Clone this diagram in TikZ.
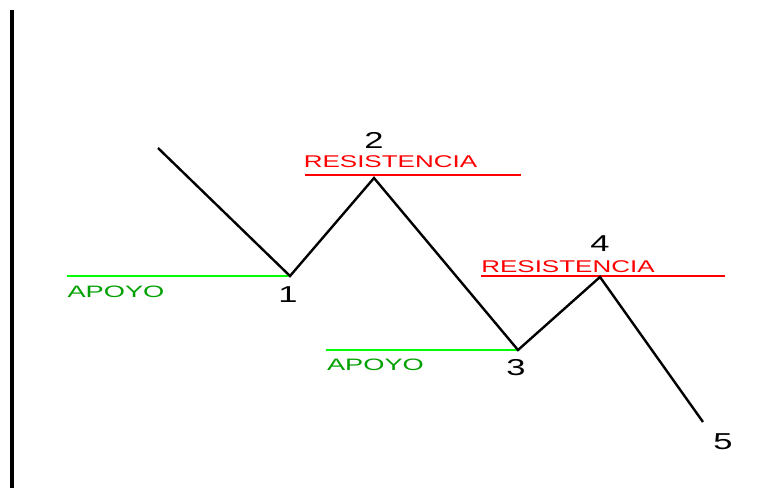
\documentclass[tikz,border=0pt]{standalone}
\usepackage{fontspec}
\setmainfont{Liberation Sans}
\definecolor{lgreen}{RGB}{0,255,0}
\definecolor{tgreen}{RGB}{0,160,0}
\definecolor{lred}{RGB}{255,0,0}
\begin{document}
\begin{tikzpicture}[x=1pt,y=-1pt,
  zig/.style={line width=2.4pt,black,line join=miter},
  sup/.style={line width=2pt,lgreen},
  res/.style={line width=2pt,lred},
  restxt/.style={inner sep=0pt,text=lred,font=\fontsize{17}{17}\selectfont},
  suptxt/.style={inner sep=0pt,text=tgreen,font=\fontsize{16.5}{16.5}\selectfont},
  num/.style={inner sep=0pt,text=black,font=\fontsize{23}{23}\selectfont}]
\useasboundingbox (0,0) rectangle (757,488);
\coordinate (axtop) at (12,10);
\coordinate (axbot) at (12,488);
\draw[line width=4pt] (axtop) -- (axbot);
\coordinate (p0) at (158,148);
\coordinate (p1) at (290,276);
\coordinate (p2) at (374,178);
\coordinate (p3) at (518,350);
\coordinate (p4) at (600,277);
\coordinate (p5) at (703,422);
\coordinate (s1a) at (67,276);
\coordinate (s3a) at (326,350);
\coordinate (r2a) at (305,175);
\coordinate (r2b) at (521,175);
\coordinate (r4a) at (481,276);
\coordinate (r4b) at (725,276);
\draw[sup] (s1a) -- (p1);
\draw[sup] (s3a) -- (p3);
\draw[res] (r2a) -- (r2b);
\draw[res] (r4a) -- (r4b);
\draw[zig] (p0) -- (p1) -- (p2) -- (p3) -- (p4) -- (p5);
\node[restxt] (t2) at (390.5,162) {\scalebox{1.53}[1]{RESISTENCIA}};
\node[restxt] (t4) at (568,267) {\scalebox{1.53}[1]{RESISTENCIA}};
\node[suptxt] (t1) at (116,292) {\scalebox{1.65}[1]{APOYO}};
\node[suptxt] (t3) at (375.5,365) {\scalebox{1.65}[1]{APOYO}};
\node[num] (n1) at (288,295) {\scalebox{1.5}[1]{1}};
\node[num] (n2) at (374,140) {\scalebox{1.5}[1]{2}};
\node[num] (n3) at (516,368) {\scalebox{1.5}[1]{3}};
\node[num] (n4) at (600,244) {\scalebox{1.5}[1]{4}};
\node[num] (n5) at (723,442) {\scalebox{1.5}[1]{5}};
\end{tikzpicture}
\end{document}
